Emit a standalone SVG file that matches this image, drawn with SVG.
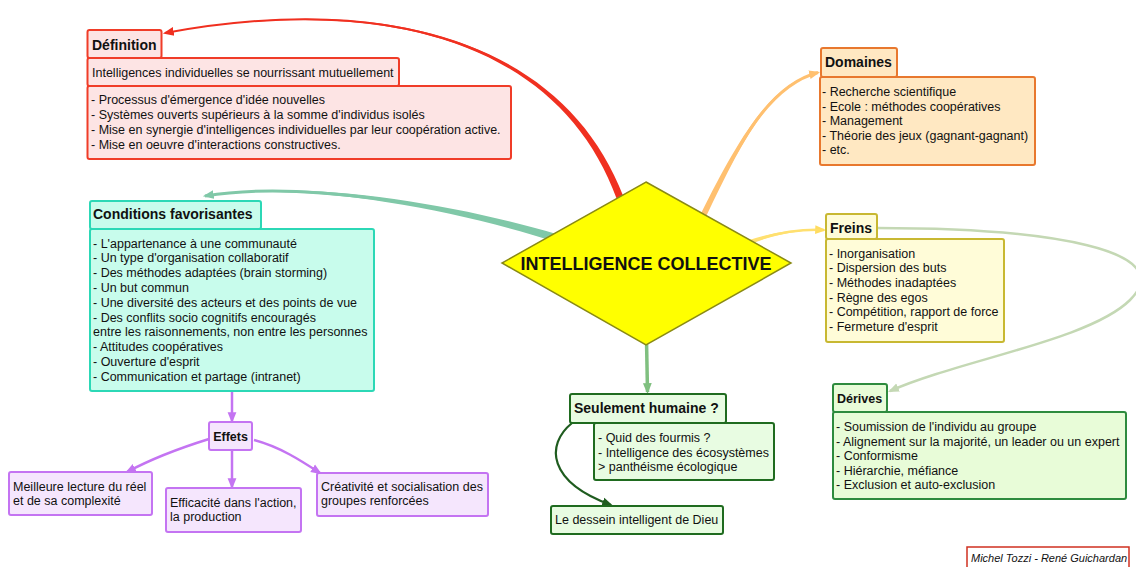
<svg xmlns="http://www.w3.org/2000/svg" width="1136" height="567" viewBox="0 0 1136 567">
<style>
text{font-family:"Liberation Sans",Arial,sans-serif;fill:#111}
.h{font-size:14px;font-weight:bold}
.hs{font-size:12.5px;font-weight:bold}
.b{font-size:12.5px}
.box{stroke-width:2}
.red{fill:#fde4e4;stroke:#f03c28}
.org{fill:#ffe8c2;stroke:#e8782e}
.tq{fill:#c8fcec;stroke:#2cd8b6}
.yel{fill:#fffcd8;stroke:#c8b832}
.grn{fill:#e8fcd8;stroke:#2e8b3e}
.pur{fill:#f5e6fd;stroke:#c474f2}
.dg{fill:#e8fce2;stroke:#1f6b1f}
.c{fill:none}
</style>
<defs>
<marker id="mRed" markerUnits="userSpaceOnUse" markerWidth="11" markerHeight="11" viewBox="0 0 10 10" refX="8" refY="5" orient="auto"><path d="M0,1 L10,5 L0,9 Z" fill="#f03020"/></marker>
<marker id="mTeal" markerUnits="userSpaceOnUse" markerWidth="11" markerHeight="11" viewBox="0 0 10 10" refX="8" refY="5" orient="auto"><path d="M0,1 L10,5 L0,9 Z" fill="#80c8a8"/></marker>
<marker id="mOrg" markerUnits="userSpaceOnUse" markerWidth="11" markerHeight="11" viewBox="0 0 10 10" refX="8" refY="5" orient="auto"><path d="M0,1 L10,5 L0,9 Z" fill="#ffc070"/></marker>
<marker id="mYel" markerUnits="userSpaceOnUse" markerWidth="11" markerHeight="11" viewBox="0 0 10 10" refX="8" refY="5" orient="auto"><path d="M0,1 L10,5 L0,9 Z" fill="#ffdc60"/></marker>
<marker id="mGrn" markerUnits="userSpaceOnUse" markerWidth="11" markerHeight="11" viewBox="0 0 10 10" refX="8" refY="5" orient="auto"><path d="M0,1 L10,5 L0,9 Z" fill="#80c080"/></marker>
<marker id="mLt" markerUnits="userSpaceOnUse" markerWidth="11" markerHeight="11" viewBox="0 0 10 10" refX="8" refY="5" orient="auto"><path d="M0,1 L10,5 L0,9 Z" fill="#c4d8b4"/></marker>
<marker id="mPur" markerUnits="userSpaceOnUse" markerWidth="11" markerHeight="11" viewBox="0 0 10 10" refX="8" refY="5" orient="auto"><path d="M0,1 L10,5 L0,9 Z" fill="#c474f2"/></marker>
<marker id="mDg" markerUnits="userSpaceOnUse" markerWidth="11" markerHeight="11" viewBox="0 0 10 10" refX="8" refY="5" orient="auto"><path d="M0,1 L10,5 L0,9 Z" fill="#1f5c1f"/></marker>
</defs>
<rect width="1136" height="567" fill="#ffffff"/>
<g id="connectors">
<path class="c" d="M620 197.5 C565 50, 400 -10, 165 33" stroke="#f03020" stroke-width="2" marker-end="url(#mRed)"/>
<path d="M623.3 196.3 C567.2 49.2, 399.8 -11.2, 165 33 C400.2 -8.8, 562.8 50.8, 616.7 198.7 Z" fill="#f03020"/>
<path class="c" d="M556 238 C450 205, 300 180, 205 196" stroke="#80c8a8" stroke-width="3" marker-end="url(#mTeal)"/>
<path d="M557.2 234.2 C450.8 202.5, 299.8 178.7, 205 196 C300.2 181.3, 449.2 207.6, 554.8 241.8 Z" fill="#80c8a8"/>
<path class="c" d="M703 216 C740 140, 770 85, 818 72.5" stroke="#ffc070" stroke-width="3" marker-end="url(#mOrg)"/>
<path d="M705.7 217.3 C741.8 140.9, 770.3 86, 816 73 C769.8 84, 738.2 139.1, 700.3 214.7 Z" fill="#ffc070"/>
<path class="c" d="M750 242 C775 233, 800 229, 824 230" stroke="#ffe070" stroke-width="2.5" marker-end="url(#mYel)"/>
<path d="M750.7 243.9 C775.5 234.3, 800 229.7, 823 230 C800 228.3, 774.6 231.8, 749.3 240.1 Z" fill="#ffe070"/>
<path class="c" d="M646.5 340 L647.5 392" stroke="#80c080" stroke-width="3.5" marker-end="url(#mGrn)"/>
<path class="c" d="M877 228 C1050 228, 1180 250, 1130 300 C1090 340, 960 360, 890 391" stroke="#c4d8b4" stroke-width="2.5" marker-end="url(#mLt)"/>
<path class="c" d="M232 392 L232 421" stroke="#c474f2" stroke-width="2.5" marker-end="url(#mPur)"/>
<path class="c" d="M209 439 C180 448, 155 457, 127 472" stroke="#c474f2" stroke-width="2.5" marker-end="url(#mPur)"/>
<path class="c" d="M232 450 L232 487" stroke="#c474f2" stroke-width="2.5" marker-end="url(#mPur)"/>
<path class="c" d="M254 440 C280 447, 300 460, 320 473" stroke="#c474f2" stroke-width="2.5" marker-end="url(#mPur)"/>
<path class="c" d="M572 423 C545 445, 548 482, 611 505" stroke="#1f5c1f" stroke-width="2.2" marker-end="url(#mDg)"/>
</g>
<g id="center">
<polygon points="646,182 791,263 646,345 502,263" fill="#ffff00" stroke="#8a8a14" stroke-width="1.5"/>
<text x="646" y="269.5" text-anchor="middle" style="font-size:18px;font-weight:bold">INTELLIGENCE COLLECTIVE</text>
</g>
<g id="definition">
<rect class="box red" x="87.5" y="86" width="423.5" height="73" rx="2"/>
<rect class="box red" x="87.5" y="58" width="311.5" height="28" rx="2"/>
<rect class="box red" x="87.5" y="30" width="74" height="28" rx="2"/>
<text class="h" x="92" y="50">Définition</text>
<text class="b" x="92" y="77">Intelligences individuelles se nourrissant mutuellement</text>
<text class="b" x="91" y="103.5">- Processus d'émergence d'idée nouvelles</text>
<text class="b" x="91" y="118.5">- Systèmes ouverts supérieurs à la somme d'individus isolés</text>
<text class="b" x="91" y="133.5">- Mise en synergie d'intelligences individuelles par leur coopération active.</text>
<text class="b" x="91" y="148.5">- Mise en oeuvre d'interactions constructives.</text>
</g>
<g id="domaines">
<rect class="box org" x="820" y="77" width="215" height="88" rx="2"/>
<rect class="box org" x="821" y="48" width="76" height="29" rx="2"/>
<text class="h" x="825" y="67">Domaines</text>
<text class="b" x="822" y="96">- Recherche scientifique</text>
<text class="b" x="822" y="110.5">- Ecole : méthodes coopératives</text>
<text class="b" x="822" y="125">- Management</text>
<text class="b" x="822" y="139.5">- Théorie des jeux (gagnant-gagnant)</text>
<text class="b" x="822" y="154">- etc.</text>
</g>
<g id="conditions">
<rect class="box tq" x="90" y="229" width="284" height="162" rx="2"/>
<rect class="box tq" x="90" y="201" width="171" height="28" rx="2"/>
<text class="h" x="93" y="219">Conditions favorisantes</text>
<text class="b" x="93" y="247.5">- L'appartenance à une communauté</text>
<text class="b" x="93" y="262.3">- Un type d'organisation collaboratif</text>
<text class="b" x="93" y="277.1">- Des méthodes adaptées (brain storming)</text>
<text class="b" x="93" y="291.9">- Un but commun</text>
<text class="b" x="93" y="306.7">- Une diversité des acteurs et des points de vue</text>
<text class="b" x="93" y="321.5">- Des conflits socio cognitifs encouragés</text>
<text class="b" x="93" y="336.3">entre les raisonnements, non entre les personnes</text>
<text class="b" x="93" y="351.1">- Attitudes coopératives</text>
<text class="b" x="93" y="365.9">- Ouverture d'esprit</text>
<text class="b" x="93" y="380.7">- Communication et partage (intranet)</text>
</g>
<g id="freins">
<rect class="box yel" x="826" y="239" width="178" height="103" rx="2"/>
<rect class="box yel" x="826" y="214" width="51" height="25" rx="2"/>
<text class="h" x="830" y="233">Freins</text>
<text class="b" x="829" y="257.5">- Inorganisation</text>
<text class="b" x="829" y="272.2">- Dispersion des buts</text>
<text class="b" x="829" y="286.9">- Méthodes inadaptées</text>
<text class="b" x="829" y="301.6">- Règne des egos</text>
<text class="b" x="829" y="316.3">- Compétition, rapport de force</text>
<text class="b" x="829" y="331">- Fermeture d'esprit</text>
</g>
<g id="derives">
<rect class="box grn" x="833" y="412" width="293" height="87" rx="2"/>
<rect class="box grn" x="833" y="384" width="54" height="28" rx="2"/>
<text class="hs" x="837" y="403">Dérives</text>
<text class="b" x="836" y="431">- Soumission de l'individu au groupe</text>
<text class="b" x="836" y="445.6">- Alignement sur la majorité, un leader ou un expert</text>
<text class="b" x="836" y="460.2">- Conformisme</text>
<text class="b" x="836" y="474.8">- Hiérarchie, méfiance</text>
<text class="b" x="836" y="489.4">- Exclusion et auto-exclusion</text>
</g>
<g id="effets">
<rect class="box pur" x="209" y="422" width="43" height="28" rx="2"/>
<text class="hs" x="230.5" y="440.5" text-anchor="middle">Effets</text>
</g>
<g id="effet-lecture">
<rect class="box pur" x="9" y="472" width="143" height="43" rx="2"/>
<text class="b" x="13" y="490.5">Meilleure lecture du réel</text>
<text class="b" x="13" y="504.5">et de sa complexité</text>
</g>
<g id="effet-efficacite">
<rect class="box pur" x="166" y="488" width="135" height="44" rx="2"/>
<text class="b" x="170" y="507">Efficacité dans l'action,</text>
<text class="b" x="170" y="521">la production</text>
</g>
<g id="effet-creativite">
<rect class="box pur" x="317" y="473" width="171" height="43" rx="2"/>
<text class="b" x="321" y="490.5">Créativité et socialisation des</text>
<text class="b" x="321" y="504.5">groupes renforcées</text>
</g>
<g id="seulement">
<rect class="box dg" x="594" y="423" width="180" height="57" rx="2"/>
<rect class="box dg" x="570" y="394" width="156" height="29" rx="2"/>
<text class="h" x="574" y="413">Seulement humaine ?</text>
<text class="b" x="598" y="442">- Quid des fourmis ?</text>
<text class="b" x="598" y="456.5">- Intelligence des écosystèmes</text>
<text class="b" x="598" y="471">&gt; panthéisme écologique</text>
</g>
<g id="dessein">
<rect class="box dg" x="551" y="506" width="172" height="28" rx="2"/>
<text class="b" x="555" y="523.5">Le dessein intelligent de Dieu</text>
</g>
<g id="credit">
<rect x="967" y="547" width="162" height="24" fill="#ffffff" stroke="#d03020" stroke-width="1.5"/>
<text x="971" y="562" style="font-size:11px;font-style:italic">Michel Tozzi - René Guichardan</text>
</g>
</svg>
